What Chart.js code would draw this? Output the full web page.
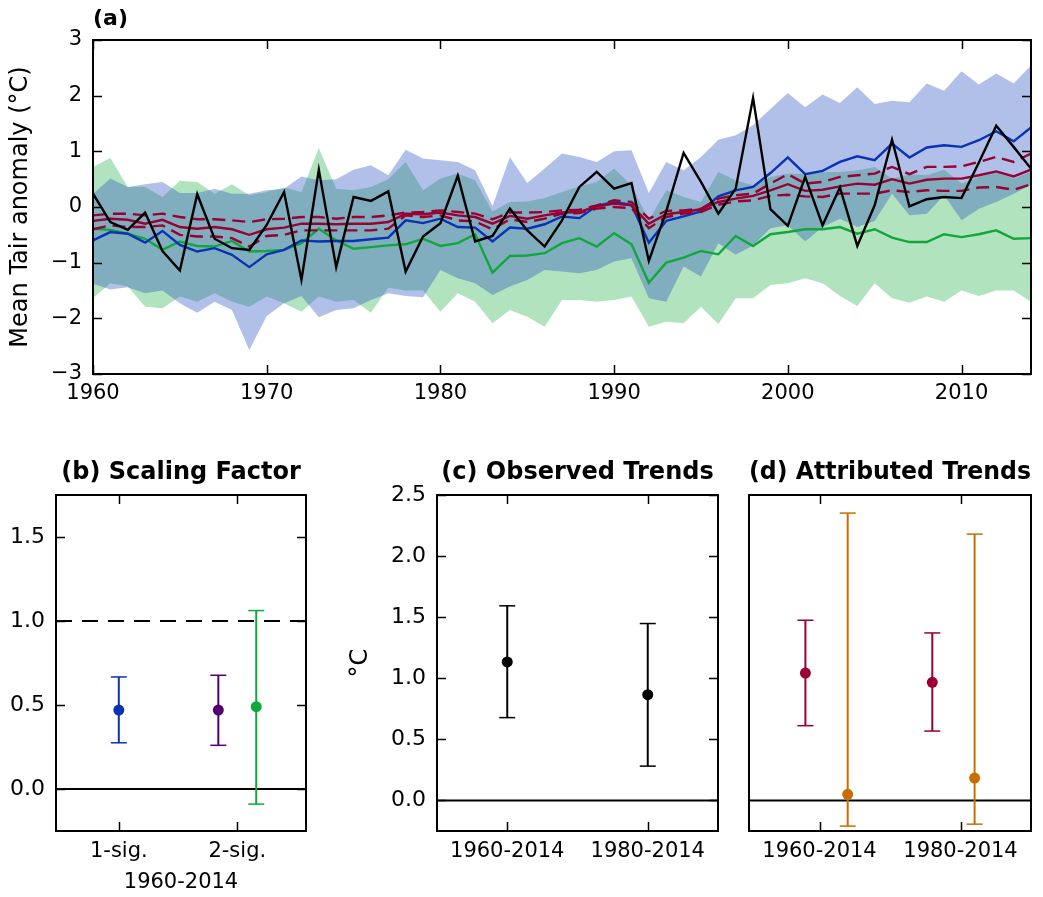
<!DOCTYPE html>
<html>
<head>
<meta charset="utf-8">
<script src="https://cdn.jsdelivr.net/npm/chart.js@4.4.1/dist/chart.umd.min.js"></script>
<style>
  body { margin: 0; background: #fff; }
  #wrap { position: relative; width: 1043px; height: 897px; }
  canvas { position: absolute; }
</style>
</head>
<body>
<div id="wrap">
  <canvas id="panelA" width="1043" height="420" style="left:0;top:0"></canvas>
  <canvas id="panelB" width="330" height="457" style="left:0;top:440px"></canvas>
  <canvas id="panelC" width="390" height="457" style="left:340px;top:440px"></canvas>
  <canvas id="panelD" width="323" height="457" style="left:720px;top:440px"></canvas>
</div>
<script>
// ---- panel (a): annual mean Tair anomaly ----
const years = [1960, 1961, 1962, 1963, 1964, 1965, 1966, 1967, 1968, 1969,
  1970, 1971, 1972, 1973, 1974, 1975, 1976, 1977, 1978, 1979,
  1980, 1981, 1982, 1983, 1984, 1985, 1986, 1987, 1988, 1989,
  1990, 1991, 1992, 1993, 1994, 1995, 1996, 1997, 1998, 1999,
  2000, 2001, 2002, 2003, 2004, 2005, 2006, 2007, 2008, 2009,
  2010, 2011, 2012, 2013, 2014];
const yearTicks = [1960, 1970, 1980, 1990, 2000, 2010];
const anomTicks = [-3, -2, -1, 0, 1, 2, 3];

const observed = [0.24, -0.27, -0.41, -0.10, -0.79, -1.14, 0.23, -0.57, -0.74, -0.77,
  -0.32, 0.27, -1.31, 0.67, -1.08, 0.18, 0.11, 0.28, -1.16, -0.53,
  -0.29, 0.56, -0.62, -0.52, -0.03, -0.42, -0.71, -0.24, 0.36, 0.63,
  0.33, 0.43, -0.97, -0.08, 0.97, 0.45, -0.12, 0.33, 1.96, -0.04,
  -0.34, 0.54, -0.33, 0.35, -0.70, 0.03, 1.21, 0.01, 0.14, 0.18,
  0.16, 0.80, 1.46, 1.08, 0.69];

const allMean = [-0.60, -0.45, -0.48, -0.64, -0.43, -0.68, -0.80, -0.74, -0.86, -1.08,
  -0.85, -0.77, -0.60, -0.62, -0.61, -0.61, -0.58, -0.55, -0.24, -0.29,
  -0.21, -0.36, -0.37, -0.62, -0.37, -0.39, -0.31, -0.17, -0.20, 0.02,
  0.09, 0.04, -0.64, -0.25, -0.17, -0.08, 0.19, 0.30, 0.36, 0.61,
  0.89, 0.59, 0.65, 0.81, 0.91, 0.84, 1.14, 0.89, 1.07, 1.11,
  1.08, 1.20, 1.36, 1.18, 1.43];
const allHigh = [0.24, 0.51, 0.36, 0.41, 0.45, 0.25, 0.25, 0.33, 0.24, 0.24,
  0.30, 0.33, 0.55, 0.48, 0.50, 0.67, 0.75, 0.57, 1.03, 0.87,
  0.84, 0.81, 0.66, 0.02, 0.90, 0.43, 0.69, 0.96, 0.90, 0.81,
  1.00, 1.02, 0.25, 0.81, 0.66, 0.90, 1.21, 1.29, 1.47, 1.76,
  2.05, 1.79, 2.02, 1.87, 2.15, 1.85, 1.91, 1.88, 2.22, 2.09,
  2.44, 2.20, 2.40, 2.22, 2.54];
const allLow = [-1.38, -1.48, -1.44, -1.55, -1.50, -1.73, -1.90, -1.70, -1.85, -2.57,
  -1.96, -1.73, -1.60, -1.98, -1.85, -1.82, -1.67, -1.55, -1.60, -1.62,
  -1.13, -1.28, -1.37, -1.58, -1.43, -1.31, -1.13, -1.16, -1.19, -1.13,
  -0.98, -0.92, -1.64, -1.70, -1.07, -1.25, -0.65, -0.86, -0.69, -0.38,
  -0.33, -0.62, -0.36, -0.21, -0.36, -0.25, 0.24, -0.15, -0.12, 0.21,
  -0.24, -0.03, 0.09, 0.24, 0.39];

const natMean = [-0.39, -0.41, -0.48, -0.57, -0.77, -0.62, -0.70, -0.71, -0.61, -0.80,
  -0.79, -0.77, -0.65, -0.39, -0.60, -0.75, -0.72, -0.69, -0.67, -0.57,
  -0.70, -0.65, -0.49, -1.18, -0.88, -0.87, -0.83, -0.65, -0.56, -0.71,
  -0.47, -0.67, -1.36, -1.00, -0.91, -0.79, -0.85, -0.52, -0.70, -0.49,
  -0.45, -0.40, -0.40, -0.36, -0.48, -0.40, -0.55, -0.63, -0.63, -0.49,
  -0.54, -0.49, -0.42, -0.57, -0.56];
const natHigh = [0.72, 0.88, 0.36, 0.36, 0.18, 0.47, 0.45, 0.24, 0.41, 0.21,
  0.27, 0.35, 0.27, 1.06, 0.33, 0.30, 0.36, 0.50, 0.81, 0.30,
  0.51, 0.60, 0.48, -0.08, 0.09, 0.10, 0.16, 0.27, 0.37, 0.45,
  0.69, 0.39, -0.24, 0.30, 0.18, 0.09, 0.63, 0.48, 0.39, 0.54,
  0.60, 0.59, 0.63, 0.63, 0.66, 0.72, 0.51, 0.59, 0.57, 0.67,
  0.42, 0.54, 0.63, 0.51, 0.63];
const natLow = [-1.64, -1.37, -1.43, -1.79, -1.82, -1.61, -1.70, -1.55, -1.70, -1.79,
  -1.61, -1.73, -1.88, -1.61, -1.70, -1.67, -1.90, -1.45, -1.50, -1.50,
  -1.88, -1.55, -1.70, -2.09, -1.85, -1.97, -2.15, -1.67, -1.67, -1.70,
  -1.67, -1.61, -2.15, -2.06, -2.09, -1.79, -2.10, -1.64, -1.64, -1.40,
  -1.37, -1.28, -1.37, -1.60, -1.78, -1.37, -1.64, -1.72, -1.61, -1.70,
  -1.50, -1.60, -1.50, -1.50, -1.70];

const antMean = [-0.25, -0.21, -0.23, -0.30, -0.23, -0.36, -0.39, -0.36, -0.40, -0.50,
  -0.40, -0.37, -0.30, -0.30, -0.31, -0.30, -0.30, -0.27, -0.12, -0.13,
  -0.10, -0.15, -0.18, -0.30, -0.16, -0.21, -0.15, -0.10, -0.09, 0.01,
  0.06, 0.03, -0.30, -0.13, -0.09, -0.04, 0.09, 0.15, 0.20, 0.30,
  0.41, 0.29, 0.31, 0.37, 0.42, 0.40, 0.50, 0.42, 0.49, 0.51,
  0.51, 0.57, 0.64, 0.55, 0.67];
const antHigh = [-0.15, -0.12, -0.12, -0.15, -0.12, -0.18, -0.22, -0.22, -0.24, -0.27,
  -0.22, -0.21, -0.18, -0.18, -0.21, -0.18, -0.18, -0.15, -0.10, -0.09,
  -0.06, -0.09, -0.12, -0.22, -0.10, -0.10, -0.09, -0.06, -0.05, 0.03,
  0.12, 0.09, -0.21, -0.07, -0.06, -0.03, 0.15, 0.21, 0.24, 0.42,
  0.59, 0.42, 0.45, 0.54, 0.57, 0.60, 0.72, 0.59, 0.72, 0.72,
  0.73, 0.81, 0.90, 0.81, 0.96];
const antLow = [-0.40, -0.33, -0.36, -0.36, -0.33, -0.50, -0.53, -0.53, -0.56, -0.71,
  -0.52, -0.50, -0.42, -0.42, -0.42, -0.42, -0.42, -0.39, -0.15, -0.18,
  -0.15, -0.24, -0.26, -0.40, -0.22, -0.27, -0.21, -0.12, -0.11, -0.03,
  0.00, -0.02, -0.38, -0.18, -0.12, -0.09, 0.04, 0.10, 0.12, 0.20,
  0.22, 0.19, 0.18, 0.24, 0.24, 0.24, 0.30, 0.27, 0.30, 0.29,
  0.29, 0.35, 0.36, 0.31, 0.41];

// ---- panel (b): scaling factors, 1960-2014 ----
const sfCats = ['1-sig.', '2-sig.'];
const sfTicks = [0, 0.5, 1, 1.5];
const sfX = [1, 1.84, 2.16];
const sfBest = [0.47, 0.47, 0.49];
const sfLow = [0.275, 0.26, -0.09];
const sfHigh = [0.667, 0.677, 1.062];

// ---- panel (c): observed trends ----
const periods = ['1960-2014', '1980-2014'];
const trendTicks = [0, 0.5, 1, 1.5, 2, 2.5];
const obsBest = [1.134, 0.866];
const obsLow = [0.678, 0.281];
const obsHigh = [1.593, 1.448];

// ---- panel (d): attributed trends ----
const antX = [0.9, 1.8];
const antBest = [1.043, 0.967];
const antLo = [0.612, 0.568];
const antHi = [1.475, 1.371];
const natX = [1.2, 2.1];
const natBest = [0.05, 0.183];
const natLo = [-0.21, -0.194];
const natHi = [2.352, 2.18];

const BLUE = '#0a32b4', GREEN = '#10a83c', RED = '#990033',
      PURPLE = '#520070', ORANGE = '#c86e00';

Chart.defaults.font.family = 'DejaVu Sans';
Chart.defaults.font.size = 21;
Chart.defaults.color = '#000';

// frame + inward tick marks, matplotlib style
const frameTicks = {
  id: 'frameTicks',
  afterDatasetsDraw(chart, args, opts) {
    const { ctx, chartArea: a, scales } = chart;
    const L = 9;
    ctx.save();
    ctx.strokeStyle = '#000';
    ctx.lineWidth = 1.5;
    if (opts.x) {
      scales.x.ticks.forEach(t => {
        const px = Math.round(scales.x.getPixelForValue(t.value)) + 0.5;
        ctx.beginPath();
        ctx.moveTo(px, a.top); ctx.lineTo(px, a.top + L);
        ctx.moveTo(px, a.bottom); ctx.lineTo(px, a.bottom - L);
        ctx.stroke();
      });
    }
    if (opts.y) {
      scales.y.ticks.forEach(t => {
        const py = Math.round(scales.y.getPixelForValue(t.value)) + 0.5;
        ctx.beginPath();
        ctx.moveTo(a.left, py); ctx.lineTo(a.left + L, py);
        ctx.moveTo(a.right, py); ctx.lineTo(a.right - L, py);
        ctx.stroke();
      });
    }
    ctx.lineWidth = 2;
    ctx.strokeRect(a.left, a.top, a.right - a.left, a.bottom - a.top);
    ctx.restore();
  }
};

const noGrid = { display: false, drawTicks: false };
const noBorder = { display: false };
const minus = v => (v < 0 ? '\u2212' + Math.abs(v) : String(v));
const fixedTicks = list => s => { s.ticks = list.map(value => ({ value })); };

function band(data, fill, color) {
  return { data, fill, backgroundColor: color, borderWidth: 0, pointRadius: 0 };
}
function line(data, color, dash) {
  return { data, borderColor: color, borderWidth: 2.4, borderDash: dash || [],
           pointRadius: 0, fill: false };
}

new Chart(document.getElementById('panelA'), {
  type: 'line',
  data: {
    labels: years,
    datasets: [
      line(observed, '#000'),
      line(antMean, RED),
      line(antHigh, RED, [13, 7]),
      line(antLow, RED, [13, 7]),
      line(allMean, BLUE),
      line(natMean, GREEN),
      band(allHigh, '+1', 'rgba(40,80,190,0.36)'),
      band(allLow, false, 'rgba(40,80,190,0.36)'),
      band(natHigh, '+1', 'rgba(20,170,60,0.33)'),
      band(natLow, false, 'rgba(20,170,60,0.33)')
    ]
  },
  options: {
    responsive: false,
    animation: false,
    devicePixelRatio: 1,
    layout: { padding: { top: 1, right: 12, bottom: 0, left: 0 } },
    plugins: {
      legend: { display: false },
      tooltip: { enabled: false },
      filler: { propagate: false, drawTime: 'beforeDatasetsDraw' },
      title: { display: true, text: '(a)', align: 'start', fullSize: false,
               font: { weight: 'bold', size: 22 }, padding: { top: 5, bottom: 7.6 } },
      frameTicks: { x: true, y: true }
    },
    scales: {
      x: {
        type: 'linear', min: 1960, max: 2014,
        grid: noGrid, border: noBorder,
        ticks: { padding: 7, callback: v => String(v) },
        afterBuildTicks: fixedTicks(yearTicks),
        afterFit: s => { s.height = 46; }
      },
      y: {
        min: -3, max: 3,
        grid: noGrid, border: noBorder,
        ticks: { padding: 11, callback: minus },
        afterBuildTicks: fixedTicks(anomTicks),
        title: { display: true, text: 'Mean Tair anomaly (\u00B0C)', font: { size: 24 },
                 padding: { top: 6, bottom: 0 } },
        afterFit: s => { s.width = 93; }
      }
    }
  },
  plugins: [frameTicks]
});

// error bar = vertical line with flat caps, centre = filled dot
function errBar(x, lo, hi, color) {
  return { data: [{ x, y: lo }, { x, y: hi }], showLine: true, borderColor: color,
           borderWidth: 2, pointStyle: 'line', pointRadius: 8, pointHoverRadius: 8,
           pointBorderColor: color, pointBorderWidth: 1.5 };
}
function dot(x, y, color) {
  return { data: [{ x, y }], pointRadius: 5.5, pointHoverRadius: 5.5,
           pointBackgroundColor: color, pointBorderColor: color, pointBorderWidth: 0 };
}
function hline(xmin, xmax, y, dash) {
  return { data: [{ x: xmin, y }, { x: xmax, y }], showLine: true, borderColor: '#000',
           borderWidth: 2, borderDash: dash || [], pointRadius: 0 };
}

function smallPanel(id, title, cats, xmin, xmax, ymax, yTicks, datasets, opt) {
  return new Chart(document.getElementById(id), {
    type: 'scatter',
    data: { datasets },
    options: {
      responsive: false,
      animation: false,
      devicePixelRatio: 1,
      layout: { padding: { top: 0, right: opt.right, bottom: 0, left: opt.left || 0 } },
      plugins: {
        legend: { display: false },
        tooltip: { enabled: false },
        title: { display: true, text: title, fullSize: false,
                 font: { weight: 'bold', size: 24 }, padding: { top: 18.5, bottom: 7.7 } },
        frameTicks: { x: true, y: opt.yWidth > 0 }
      },
      scales: {
        x: {
          type: 'linear', min: xmin, max: xmax,
          grid: noGrid, border: noBorder,
          ticks: { padding: 8, callback: (v, i) => cats[i] },
          afterBuildTicks: fixedTicks([1, 2]),
          title: { display: !!opt.xTitle, text: opt.xTitle || '', padding: { top: 0, bottom: 2 } },
          afterFit: s => { s.height = 66; }
        },
        y: {
          min: -0.25, max: ymax,
          display: opt.yWidth > 0,
          grid: noGrid, border: noBorder,
          ticks: { padding: 11, font: { size: 22 }, callback: v => v.toFixed(1) },
          afterBuildTicks: fixedTicks(yTicks),
          title: { display: !!opt.yTitle, text: opt.yTitle || '', font: { size: 24 },
                   padding: { top: 6, bottom: 0 } },
          afterFit: s => { s.width = opt.yWidth; }
        }
      }
    },
    plugins: [frameTicks]
  });
}

// (b)
const sfColors = [BLUE, PURPLE, GREEN];
const bSets = [];
sfX.forEach((x, i) => {
  bSets.push(dot(x, sfBest[i], sfColors[i]));
  bSets.push(errBar(x, sfLow[i], sfHigh[i], sfColors[i]));
});
bSets.push(hline(0.47, 2.58, 1, [16, 10]));
bSets.push(hline(0.47, 2.58, 0));
smallPanel('panelB', '(b) Scaling Factor', sfCats, 0.47, 2.58, 1.75, sfTicks, bSets,
  { right: 24, yWidth: 56, xTitle: '1960-2014' });

// (c)
const cSets = [];
obsBest.forEach((b, i) => {
  cSets.push(dot(i + 1, b, '#000'));
  cSets.push(errBar(i + 1, obsLow[i], obsHigh[i], '#000'));
});
cSets.push(hline(0.5, 2.5, 0));
smallPanel('panelC', '(c) Observed Trends', periods, 0.5, 2.5, 2.5, trendTicks, cSets,
  { right: 12, yWidth: 97, yTitle: '\u00B0C' });

// (d)
const dSets = [];
antX.forEach((x, i) => {
  dSets.push(dot(x, antBest[i], RED));
  dSets.push(errBar(x, antLo[i], antHi[i], RED));
  dSets.push(dot(natX[i], natBest[i], ORANGE));
  dSets.push(errBar(natX[i], natLo[i], natHi[i], ORANGE));
});
dSets.push(hline(0.5, 2.5, 0));
smallPanel('panelD', '(d) Attributed Trends', periods, 0.5, 2.5, 2.5, trendTicks, dSets,
  { right: 12, left: 29, yWidth: 0 });
</script>
</body>
</html>
